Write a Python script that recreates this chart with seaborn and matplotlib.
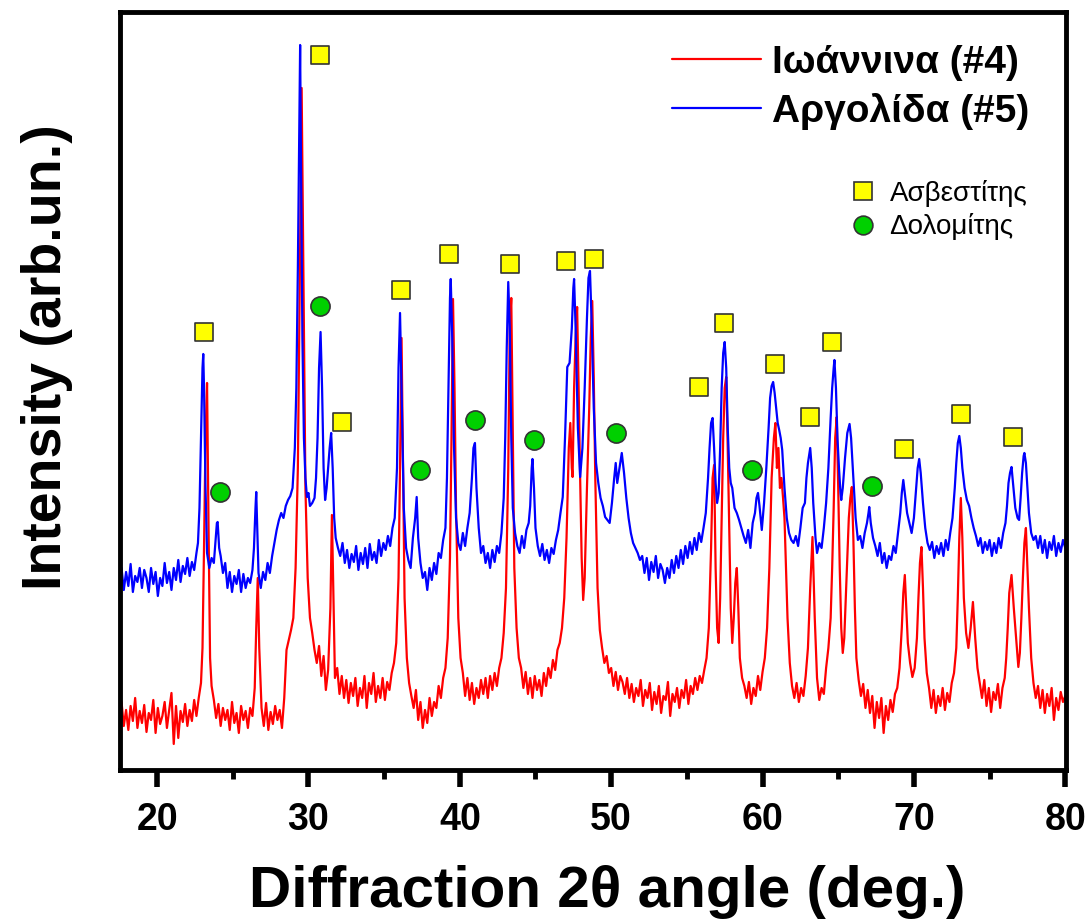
import matplotlib
matplotlib.use("Agg")
import matplotlib.pyplot as plt
from matplotlib.lines import Line2D
from matplotlib.ticker import MultipleLocator
import pandas as pd
import seaborn as sns

# ---------------- data ----------------
series_labels = ["Ιωάννινα (#4)", "Αργολίδα (#5)"]
phase_labels = ["Ασβεστίτης", "Δολομίτης"]
x_ticks = [20, 30, 40, 50, 60, 70, 80]

# Ιωάννινα (#4) - red pattern
red_tt = [
    17.5, 17.65, 17.8, 17.95, 18.1, 18.25, 18.4, 18.55, 18.7, 18.85,
    19.0, 19.15, 19.3, 19.45, 19.6, 19.75, 19.9, 20.05, 20.2, 20.35,
    20.5, 20.65, 20.8, 20.95, 21.1, 21.25, 21.4, 21.55, 21.7, 21.85,
    22.0, 22.15, 22.3, 22.45, 22.6, 22.75, 22.9, 23.0, 23.1, 23.2,
    23.3, 23.4, 23.5, 23.6, 23.75, 23.9, 24.05, 24.2, 24.35, 24.5,
    24.65, 24.8, 24.95, 25.1, 25.25, 25.4, 25.55, 25.7, 25.85, 26.0,
    26.15, 26.3, 26.45, 26.55, 26.65, 26.75, 26.9, 27.05, 27.2, 27.35,
    27.5, 27.65, 27.8, 27.95, 28.1, 28.25, 28.4, 28.55, 28.7, 28.85,
    29.0, 29.15, 29.3, 29.45, 29.55, 29.65, 29.8, 29.95, 30.1, 30.25,
    30.4, 30.55, 30.7, 30.85, 31.0, 31.15, 31.3, 31.45, 31.55, 31.65,
    31.75, 31.9, 32.05, 32.2, 32.35, 32.5, 32.65, 32.8, 32.95, 33.1,
    33.25, 33.4, 33.55, 33.7, 33.85, 34.0, 34.15, 34.3, 34.45, 34.6,
    34.75, 34.9, 35.05, 35.2, 35.35, 35.5, 35.65, 35.8, 35.95, 36.05,
    36.15, 36.25, 36.35, 36.5, 36.65, 36.8, 36.95, 37.1, 37.25, 37.4,
    37.55, 37.7, 37.85, 38.0, 38.15, 38.3, 38.45, 38.6, 38.75, 38.9,
    39.05, 39.2, 39.35, 39.45, 39.55, 39.65, 39.75, 39.9, 40.05, 40.2,
    40.35, 40.5, 40.65, 40.8, 40.95, 41.1, 41.25, 41.4, 41.55, 41.7,
    41.85, 42.0, 42.15, 42.3, 42.45, 42.6, 42.75, 42.9, 43.05, 43.2,
    43.3, 43.4, 43.5, 43.6, 43.75, 43.9, 44.05, 44.2, 44.35, 44.5,
    44.65, 44.8, 44.95, 45.1, 45.25, 45.4, 45.55, 45.7, 45.85, 46.0,
    46.15, 46.3, 46.45, 46.6, 46.75, 46.9, 47.05, 47.2, 47.3, 47.4,
    47.45, 47.55, 47.65, 47.75, 47.85, 47.95, 48.05, 48.15, 48.25, 48.4,
    48.55, 48.65, 48.75, 48.85, 48.95, 49.1, 49.25, 49.4, 49.55, 49.7,
    49.85, 50.0, 50.15, 50.3, 50.45, 50.6, 50.75, 50.9, 51.05, 51.2,
    51.35, 51.5, 51.65, 51.8, 51.95, 52.1, 52.25, 52.4, 52.55, 52.7,
    52.85, 53.0, 53.15, 53.3, 53.45, 53.6, 53.75, 53.9, 54.05, 54.2,
    54.35, 54.5, 54.65, 54.8, 54.95, 55.1, 55.25, 55.4, 55.55, 55.7,
    55.85, 56.0, 56.15, 56.3, 56.45, 56.6, 56.7, 56.8, 56.9, 57.0,
    57.1, 57.2, 57.3, 57.4, 57.5, 57.6, 57.7, 57.8, 57.9, 58.0,
    58.1, 58.2, 58.3, 58.4, 58.5, 58.65, 58.8, 58.95, 59.1, 59.25,
    59.4, 59.55, 59.7, 59.85, 60.0, 60.15, 60.3, 60.45, 60.6, 60.75,
    60.85, 60.95, 61.05, 61.15, 61.25, 61.35, 61.45, 61.55, 61.65, 61.8,
    61.95, 62.1, 62.25, 62.4, 62.55, 62.7, 62.85, 63.0, 63.15, 63.3,
    63.45, 63.6, 63.75, 63.9, 64.05, 64.2, 64.35, 64.5, 64.6, 64.7,
    64.8, 64.9, 65.0, 65.1, 65.2, 65.3, 65.4, 65.5, 65.6, 65.7,
    65.8, 65.9, 66.0, 66.1, 66.2, 66.35, 66.5, 66.65, 66.8, 66.95,
    67.1, 67.25, 67.4, 67.55, 67.7, 67.85, 68.0, 68.15, 68.3, 68.45,
    68.6, 68.75, 68.9, 69.05, 69.2, 69.3, 69.4, 69.5, 69.6, 69.75,
    69.9, 70.05, 70.2, 70.3, 70.4, 70.5, 70.6, 70.7, 70.85, 71.0,
    71.15, 71.3, 71.45, 71.6, 71.75, 71.9, 72.05, 72.2, 72.35, 72.5,
    72.65, 72.8, 72.9, 73.0, 73.1, 73.2, 73.3, 73.45, 73.6, 73.75,
    73.9, 74.05, 74.2, 74.35, 74.5, 74.65, 74.8, 74.95, 75.1, 75.25,
    75.4, 75.55, 75.7, 75.85, 76.0, 76.1, 76.2, 76.3, 76.45, 76.6,
    76.75, 76.9, 77.0, 77.1, 77.2, 77.3, 77.4, 77.5, 77.6, 77.75,
    77.9, 78.05, 78.2, 78.35, 78.5, 78.65, 78.8, 78.95, 79.1, 79.25,
    79.4, 79.55, 79.7, 79.85, 80.0,
]
red_int = [
    50, 66, 42, 58, 38, 62, 47, 70, 40, 57,
    45, 63, 36, 55, 48, 68, 35, 60, 44, 52,
    66, 40, 58, 75, 24, 62, 30, 57, 46, 64,
    42, 58, 47, 68, 52, 70, 85, 120, 220, 330,
    385, 240, 110, 82, 68, 50, 64, 42, 60, 48,
    58, 38, 66, 45, 55, 35, 62, 48, 57, 40,
    60, 52, 80, 140, 190, 120, 60, 42, 65, 38,
    56, 44, 62, 48, 58, 40, 70, 118, 128, 138,
    150, 200, 300, 520, 680, 520, 280, 190, 150, 135,
    118, 105, 122, 92, 112, 78, 98, 160, 253, 170,
    90, 100, 74, 92, 70, 88, 65, 85, 72, 90,
    62, 80, 70, 92, 60, 85, 74, 95, 66, 82,
    70, 90, 68, 86, 78, 95, 105, 125, 190, 300,
    430, 300, 170, 110, 85, 72, 60, 78, 48, 66,
    40, 58, 45, 70, 52, 66, 60, 82, 70, 90,
    100, 130, 210, 330, 469, 380, 260, 150, 110, 95,
    72, 90, 68, 85, 64, 80, 70, 88, 74, 90,
    70, 92, 78, 95, 82, 100, 110, 135, 180, 300,
    440, 470, 330, 200, 140, 110, 100, 80, 96, 74,
    90, 70, 92, 78, 88, 72, 95, 82, 100, 90,
    108, 98, 118, 125, 140, 170, 230, 320, 345, 300,
    291, 380, 430, 461, 380, 290, 210, 168, 190, 280,
    360, 430, 467, 390, 290, 180, 138, 120, 105, 112,
    95, 100, 82, 96, 78, 92, 86, 74, 90, 70,
    84, 66, 80, 72, 88, 62, 78, 70, 85, 58,
    76, 64, 82, 55, 72, 68, 86, 52, 74, 66,
    80, 60, 78, 70, 88, 64, 82, 74, 90, 78,
    92, 85, 98, 110, 140, 220, 290, 303, 200, 140,
    125, 170, 250, 330, 380, 391, 320, 240, 160, 125,
    150, 185, 200, 160, 110, 90, 82, 70, 86, 64,
    80, 72, 92, 78, 96, 110, 140, 200, 290, 330,
    345, 300, 320, 280, 290, 271, 250, 200, 150, 105,
    82, 70, 85, 66, 80, 72, 92, 120, 180, 231,
    150, 90, 68, 80, 74, 100, 120, 150, 200, 260,
    330, 351, 280, 200, 140, 115, 130, 170, 210, 250,
    270, 281, 230, 160, 110, 88, 72, 84, 60, 78,
    55, 72, 40, 66, 50, 70, 35, 62, 48, 68,
    56, 74, 80, 100, 140, 175, 193, 160, 125, 105,
    91, 100, 130, 170, 205, 221, 180, 130, 95, 80,
    60, 78, 55, 72, 62, 80, 58, 75, 66, 85,
    95, 120, 170, 230, 270, 230, 170, 135, 120, 140,
    166, 130, 100, 85, 70, 88, 62, 80, 56, 76,
    68, 84, 60, 80, 90, 110, 140, 175, 193, 160,
    130, 101, 115, 150, 190, 225, 240, 200, 160, 110,
    85, 70, 82, 60, 78, 55, 74, 62, 80, 48,
    70, 58, 76, 66, 72,
]

# Αργολίδα (#5) - blue pattern
blue_tt = [
    17.5, 17.65, 17.8, 17.95, 18.1, 18.25, 18.4, 18.55, 18.7, 18.85,
    19.0, 19.15, 19.3, 19.45, 19.6, 19.75, 19.9, 20.05, 20.2, 20.35,
    20.5, 20.65, 20.8, 20.95, 21.1, 21.25, 21.4, 21.55, 21.7, 21.85,
    22.0, 22.15, 22.3, 22.45, 22.6, 22.7, 22.8, 22.9, 23.0, 23.05,
    23.1, 23.2, 23.3, 23.45, 23.6, 23.75, 23.85, 23.95, 24.0, 24.1,
    24.2, 24.35, 24.5, 24.65, 24.8, 24.95, 25.1, 25.25, 25.4, 25.55,
    25.7, 25.85, 26.0, 26.15, 26.3, 26.4, 26.5, 26.55, 26.6, 26.7,
    26.85, 27.0, 27.15, 27.3, 27.45, 27.6, 27.75, 27.9, 28.05, 28.2,
    28.35, 28.5, 28.65, 28.8, 28.95, 29.1, 29.2, 29.3, 29.4, 29.45,
    29.5, 29.6, 29.7, 29.8, 29.9, 30.0, 30.1, 30.25, 30.4, 30.5,
    30.6, 30.7, 30.8, 30.9, 31.0, 31.1, 31.2, 31.3, 31.4, 31.5,
    31.6, 31.7, 31.8, 31.95, 32.1, 32.25, 32.4, 32.55, 32.7, 32.85,
    33.0, 33.15, 33.3, 33.45, 33.6, 33.75, 33.9, 34.05, 34.2, 34.35,
    34.5, 34.65, 34.8, 34.95, 35.1, 35.25, 35.4, 35.55, 35.7, 35.85,
    35.95, 36.05, 36.15, 36.3, 36.45, 36.6, 36.75, 36.9, 37.05, 37.15,
    37.25, 37.4, 37.55, 37.7, 37.85, 38.0, 38.15, 38.3, 38.45, 38.6,
    38.75, 38.9, 39.05, 39.15, 39.25, 39.35, 39.4, 39.5, 39.6, 39.75,
    39.9, 40.05, 40.2, 40.35, 40.5, 40.65, 40.8, 40.9, 41.0, 41.1,
    41.25, 41.4, 41.55, 41.7, 41.85, 42.0, 42.15, 42.3, 42.45, 42.6,
    42.75, 42.9, 43.0, 43.1, 43.2, 43.3, 43.4, 43.5, 43.65, 43.8,
    43.95, 44.1, 44.25, 44.4, 44.55, 44.65, 44.75, 44.8, 44.9, 45.0,
    45.15, 45.3, 45.45, 45.6, 45.75, 45.9, 46.05, 46.2, 46.35, 46.5,
    46.65, 46.8, 46.95, 47.1, 47.25, 47.4, 47.5, 47.55, 47.65, 47.8,
    47.95, 48.1, 48.25, 48.4, 48.5, 48.6, 48.7, 48.85, 49.0, 49.15,
    49.3, 49.45, 49.6, 49.75, 49.9, 50.05, 50.2, 50.3, 50.4, 50.55,
    50.7, 50.85, 51.0, 51.15, 51.3, 51.45, 51.6, 51.75, 51.9, 52.05,
    52.2, 52.35, 52.5, 52.65, 52.8, 52.95, 53.1, 53.25, 53.4, 53.55,
    53.7, 53.85, 54.0, 54.15, 54.3, 54.45, 54.6, 54.75, 54.9, 55.05,
    55.2, 55.35, 55.5, 55.65, 55.8, 55.95, 56.1, 56.25, 56.4, 56.5,
    56.6, 56.7, 56.8, 56.9, 57.0, 57.1, 57.2, 57.3, 57.4, 57.5,
    57.6, 57.7, 57.8, 57.9, 58.0, 58.15, 58.3, 58.45, 58.6, 58.75,
    58.9, 59.05, 59.2, 59.35, 59.5, 59.6, 59.7, 59.8, 59.95, 60.1,
    60.25, 60.4, 60.5, 60.6, 60.7, 60.8, 60.9, 61.0, 61.1, 61.2,
    61.3, 61.45, 61.6, 61.75, 61.9, 62.05, 62.2, 62.35, 62.5, 62.65,
    62.8, 62.9, 63.0, 63.1, 63.15, 63.25, 63.35, 63.5, 63.6, 63.75,
    63.9, 64.05, 64.2, 64.35, 64.5, 64.6, 64.7, 64.75, 64.85, 64.95,
    65.05, 65.15, 65.2, 65.3, 65.45, 65.6, 65.75, 65.85, 66.0, 66.15,
    66.3, 66.45, 66.6, 66.75, 66.9, 67.0, 67.05, 67.15, 67.3, 67.45,
    67.6, 67.75, 67.9, 68.05, 68.2, 68.35, 68.5, 68.65, 68.8, 68.95,
    69.1, 69.2, 69.3, 69.4, 69.55, 69.7, 69.85, 70.0, 70.15, 70.25,
    70.35, 70.45, 70.6, 70.75, 70.9, 71.05, 71.2, 71.35, 71.5, 71.65,
    71.8, 71.95, 72.1, 72.25, 72.4, 72.55, 72.7, 72.8, 72.9, 73.0,
    73.1, 73.2, 73.35, 73.5, 73.65, 73.8, 73.95, 74.1, 74.25, 74.4,
    74.55, 74.7, 74.85, 75.0, 75.15, 75.3, 75.45, 75.6, 75.75, 75.9,
    76.05, 76.15, 76.25, 76.35, 76.45, 76.55, 76.7, 76.85, 76.95, 77.05,
    77.15, 77.25, 77.3, 77.4, 77.5, 77.6, 77.75, 77.9, 78.05, 78.2,
    78.35, 78.5, 78.65, 78.8, 78.95, 79.1, 79.25, 79.4, 79.55, 79.7,
    79.85, 80.0,
]
blue_int = [
    185, 200, 178, 196, 182, 204, 176, 192, 186, 200,
    180, 198, 190, 176, 200, 184, 196, 172, 190, 182,
    205, 185, 196, 178, 200, 188, 208, 186, 202, 194,
    210, 192, 206, 198, 215, 225, 260, 330, 400, 414,
    380, 280, 215, 200, 210, 205, 225, 245, 246, 220,
    212, 195, 205, 180, 196, 176, 192, 184, 198, 176,
    194, 180, 190, 185, 198, 220, 260, 276, 250, 195,
    180, 196, 188, 205, 195, 212, 225, 238, 248, 255,
    250, 262, 268, 272, 280, 320, 380, 500, 650, 723,
    620, 430, 330, 290, 271, 275, 262, 265, 270, 290,
    330, 400, 436, 380, 300, 268, 280, 300, 320, 335,
    300, 250, 230, 220, 212, 225, 205, 218, 200, 214,
    206, 222, 198, 215, 204, 220, 200, 224, 208, 216,
    205, 228, 212, 225, 218, 232, 222, 240, 250, 300,
    400, 455, 380, 260, 220, 208, 200, 230, 250, 271,
    230, 205, 190, 196, 178, 200, 188, 205, 194, 215,
    210, 228, 240, 290, 380, 470, 489, 430, 330, 250,
    225, 218, 235, 222, 240, 255, 290, 320, 325, 280,
    240, 215, 222, 205, 215, 200, 218, 206, 222, 215,
    235, 270, 330, 420, 486, 440, 330, 260, 235, 222,
    215, 232, 220, 238, 245, 262, 300, 309, 280, 240,
    222, 212, 224, 208, 218, 205, 220, 214, 228, 238,
    255, 271, 330, 401, 405, 440, 480, 489, 440, 340,
    291, 320, 380, 450, 490, 497, 450, 360, 305, 285,
    270, 262, 251, 248, 245, 265, 290, 305, 285, 300,
    315, 295, 270, 250, 235, 225, 220, 215, 208, 212,
    195, 210, 188, 206, 196, 212, 190, 204, 198, 185,
    200, 190, 208, 195, 212, 200, 218, 204, 222, 210,
    226, 214, 230, 218, 235, 226, 240, 255, 290, 320,
    345, 350, 320, 285, 265, 275, 320, 380, 415, 426,
    400, 340, 300, 285, 280, 260, 255, 248, 240, 232,
    225, 238, 220, 245, 255, 270, 275, 262, 238, 265,
    300, 340, 370, 382, 386, 375, 360, 345, 338, 330,
    318, 280, 250, 235, 228, 225, 232, 222, 240, 260,
    265, 290, 305, 315, 320, 300, 265, 230, 215, 225,
    220, 240, 265, 300, 350, 380, 400, 408, 380, 330,
    300, 275, 268, 280, 310, 335, 344, 330, 290, 250,
    228, 232, 220, 235, 245, 255, 261, 245, 230, 222,
    212, 225, 205, 215, 200, 212, 208, 222, 215, 235,
    255, 275, 288, 275, 255, 245, 235, 250, 280, 300,
    309, 295, 265, 240, 225, 218, 226, 210, 222, 214,
    225, 212, 228, 218, 235, 250, 280, 305, 325, 332,
    320, 300, 280, 268, 262, 250, 240, 232, 222, 230,
    215, 226, 218, 228, 212, 225, 215, 230, 220, 235,
    245, 262, 285, 295, 301, 285, 260, 250, 248, 270,
    295, 312, 315, 305, 280, 255, 235, 228, 232, 220,
    232, 215, 228, 210, 226, 218, 232, 212, 225, 216,
    228, 220,
]

# phase markers (2θ position, marker level in arb. units)
calcite_tt = [23.11, 30.77, 32.23, 36.13, 39.30, 43.33, 47.03, 48.88,
              55.82, 57.47, 60.85, 63.16, 64.61, 69.37, 73.14, 76.58]
calcite_lvl = [436, 713, 346, 478, 514, 504, 507, 509,
               381, 445, 404, 351, 426, 319, 354, 331]
dolomite_tt = [24.16, 30.77, 37.38, 41.02, 44.92, 50.34, 59.33, 67.26]
dolomite_lvl = [276, 462, 298, 348, 328, 335, 298, 282]

assert len(red_tt) == len(red_int)
assert len(blue_tt) == len(blue_int)

# ---------------- styling ----------------
sns.set_style("ticks")
plt.rcParams["font.family"] = ["Liberation Sans", "DejaVu Sans"]
plt.rcParams["text.color"] = "black"
plt.rcParams["axes.labelcolor"] = "black"
plt.rcParams["xtick.color"] = "black"
plt.rcParams["ytick.color"] = "black"

RED = "#ff0000"
BLUE = "#0000ff"
YELLOW = "#ffff00"
GREEN = "#00d000"
EDGE = "#333333"

fig = plt.figure(figsize=(10.91, 9.23), dpi=100)
ax = fig.add_axes([0.110, 0.1658, 0.8671, 0.8212])

df = pd.concat([
    pd.DataFrame({"tt": red_tt, "I": red_int, "sample": series_labels[0]}),
    pd.DataFrame({"tt": blue_tt, "I": blue_int, "sample": series_labels[1]}),
], ignore_index=True)

sns.lineplot(data=df, x="tt", y="I", hue="sample",
             palette={series_labels[0]: RED, series_labels[1]: BLUE},
             estimator=None, sort=False, linewidth=1.6, legend=False, ax=ax)

sns.scatterplot(x=calcite_tt, y=calcite_lvl, marker="s", s=175, color=YELLOW,
                edgecolor=EDGE, linewidth=1.2, zorder=5, legend=False, ax=ax)
sns.scatterplot(x=dolomite_tt, y=dolomite_lvl, marker="o", s=190, color=GREEN,
                edgecolor=EDGE, linewidth=1.2, zorder=5, legend=False, ax=ax)

ax.set_xlim(17.55, 80.05)
ax.set_ylim(-2, 756)
ax.set_yticks([])
ax.set_xticks(x_ticks)
ax.set_xticklabels([str(t) for t in x_ticks], fontsize=27, fontweight="bold",
                   color="black")
ax.xaxis.set_minor_locator(MultipleLocator(5))
ax.tick_params(axis="x", which="major", direction="out", length=12, width=4,
               pad=11, color="black")
ax.tick_params(axis="x", which="minor", direction="out", length=6.5, width=3.5,
               color="black")

for side in ["left", "right", "top", "bottom"]:
    ax.spines[side].set_visible(True)
    ax.spines[side].set_linewidth(3.5)
    ax.spines[side].set_color("black")

ax.set_xlabel("Diffraction 2θ angle (deg.)", fontsize=42, fontweight="bold",
              color="black")
ax.xaxis.set_label_coords(0.515, -0.126)
ax.set_ylabel("Intensity (arb.un.)", fontsize=40, fontweight="bold",
              color="black")
ax.yaxis.set_label_coords(-0.05, 0.545)

# legend for the two samples
line_handles = [Line2D([], [], color=RED, lw=1.6),
                Line2D([], [], color=BLUE, lw=1.6)]
leg1 = ax.legend(line_handles, series_labels, loc="upper left",
                 bbox_to_anchor=(672 / 1091, 1 - 45 / 923),
                 bbox_transform=fig.transFigure, frameon=False,
                 prop={"size": 28, "weight": "bold"}, handlelength=2.3,
                 handletextpad=0.28, labelspacing=0.31, borderpad=0,
                 borderaxespad=0)
ax.add_artist(leg1)

# legend for the mineral phases
phase_handles = [
    Line2D([], [], ls="none", marker="s", markersize=13, markerfacecolor=YELLOW,
           markeredgecolor=EDGE, markeredgewidth=1.2),
    Line2D([], [], ls="none", marker="o", markersize=13.5, markerfacecolor=GREEN,
           markeredgecolor=EDGE, markeredgewidth=1.2),
]
ax.legend(phase_handles, phase_labels, loc="upper left",
          bbox_to_anchor=(849 / 1091, 1 - 180 / 923),
          bbox_transform=fig.transFigure, frameon=False,
          prop={"size": 20}, handlelength=1.0, handletextpad=0.46,
          labelspacing=0.23, borderpad=0, borderaxespad=0)

fig.savefig("out.png", dpi=100)
